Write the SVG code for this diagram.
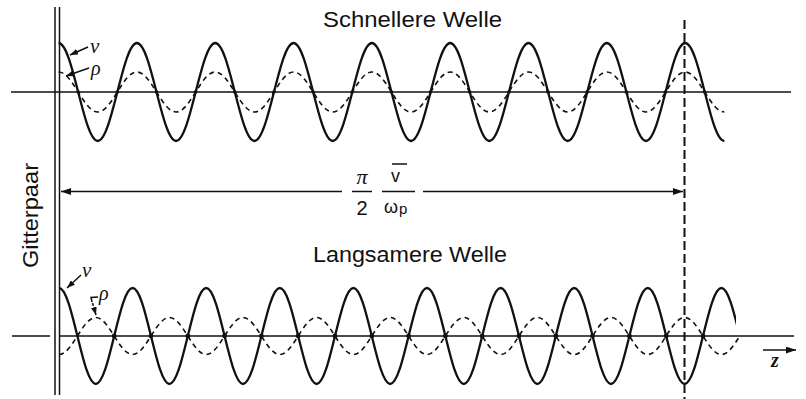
<svg xmlns="http://www.w3.org/2000/svg" width="806" height="399" viewBox="0 0 806 399">
<style>
.ax{stroke:#111;stroke-width:1.5;fill:none}
.sol{stroke:#111;stroke-width:2.3;fill:none;stroke-linejoin:round}
.dsh{stroke:#111;stroke-width:1.6;fill:none;stroke-dasharray:5 4}
.ttl{font-family:"Liberation Sans",Arial,sans-serif;font-size:22px;fill:#111}
.lbl{font-family:"Liberation Serif","Times New Roman",serif;font-style:italic;fill:#111}
.dot{fill:#111}
</style>
<defs>
<marker id="ah" viewBox="0 0 10 7" refX="10" refY="3.5" markerWidth="10" markerHeight="7" markerUnits="userSpaceOnUse" orient="auto-start-reverse">
<path d="M0,0 L10,3.5 L0,7 z" fill="#111"/>
</marker>
<marker id="sah" viewBox="0 0 8 6" refX="8" refY="3" markerWidth="8" markerHeight="6" markerUnits="userSpaceOnUse" orient="auto">
<path d="M0,0 L8,3 L0,6 z" fill="#111"/>
</marker>
<clipPath id="clipB"><rect x="0" y="250" width="736" height="149"/></clipPath>
</defs>

<g id="grid-pair">
<line class="ax" x1="55" y1="7" x2="55" y2="395" stroke-width="1.8"/>
<line class="ax" x1="59.5" y1="7" x2="59.5" y2="395" stroke-width="1.8"/>
<text class="ttl" transform="translate(38,268) rotate(-90)" textLength="105" lengthAdjust="spacingAndGlyphs">Gitterpaar</text>
</g>

<g id="fast-wave">
<text class="ttl" x="323" y="27" textLength="179" lengthAdjust="spacingAndGlyphs">Schnellere Welle</text>
<line class="ax" x1="11" y1="92" x2="791" y2="92"/>
<path class="sol" d="M58.6,43 c7.08,0 13.19,23.9 19.58,49
s12.49,49 19.58,49 s13.19,-23.9 19.58,-49 s12.49,-49 19.58,-49 s13.19,23.9 19.58,49
s12.49,49 19.58,49 s13.19,-23.9 19.58,-49 s12.49,-49 19.58,-49 s13.19,23.9 19.58,49
s12.49,49 19.58,49 s13.19,-23.9 19.58,-49 s12.49,-49 19.58,-49 s13.19,23.9 19.58,49
s12.49,49 19.58,49 s13.19,-23.9 19.58,-49 s12.49,-49 19.58,-49 s13.19,23.9 19.58,49
s12.49,49 19.58,49 s13.19,-23.9 19.58,-49 s12.49,-49 19.58,-49 s13.19,23.9 19.58,49
s12.49,49 19.58,49 s13.19,-23.9 19.58,-49 s12.49,-49 19.58,-49 s13.19,23.9 19.58,49
s12.49,49 19.58,49 s13.19,-23.9 19.58,-49 s12.49,-49 19.58,-49 s13.19,23.9 19.58,49
s12.49,49 19.58,49 s13.19,-23.9 19.58,-49 s12.49,-49 19.58,-49 s13.19,23.9 19.58,49
s12.49,49 19.58,49"/>
<path class="dsh" d="M58.6,72 c7.08,0 13.19,9.75 19.58,20
s12.49,20 19.58,20 s13.19,-9.75 19.58,-20 s12.49,-20 19.58,-20 s13.19,9.75 19.58,20
s12.49,20 19.58,20 s13.19,-9.75 19.58,-20 s12.49,-20 19.58,-20 s13.19,9.75 19.58,20
s12.49,20 19.58,20 s13.19,-9.75 19.58,-20 s12.49,-20 19.58,-20 s13.19,9.75 19.58,20
s12.49,20 19.58,20 s13.19,-9.75 19.58,-20 s12.49,-20 19.58,-20 s13.19,9.75 19.58,20
s12.49,20 19.58,20 s13.19,-9.75 19.58,-20 s12.49,-20 19.58,-20 s13.19,9.75 19.58,20
s12.49,20 19.58,20 s13.19,-9.75 19.58,-20 s12.49,-20 19.58,-20 s13.19,9.75 19.58,20
s12.49,20 19.58,20 s13.19,-9.75 19.58,-20 s12.49,-20 19.58,-20 s13.19,9.75 19.58,20
s12.49,20 19.58,20 s13.19,-9.75 19.58,-20 s12.49,-20 19.58,-20 s13.19,9.75 19.58,20
s12.49,20 19.58,20"/>
<g class="dot">
<circle cx="78.2" cy="92" r="1.8"/><circle cx="117.3" cy="92" r="1.8"/><circle cx="156.5" cy="92" r="1.8"/><circle cx="195.6" cy="92" r="1.8"/><circle cx="234.8" cy="92" r="1.8"/><circle cx="273.9" cy="92" r="1.8"/><circle cx="313.1" cy="92" r="1.8"/><circle cx="352.2" cy="92" r="1.8"/><circle cx="391.4" cy="92" r="1.8"/><circle cx="430.5" cy="92" r="1.8"/><circle cx="469.7" cy="92" r="1.8"/><circle cx="508.8" cy="92" r="1.8"/><circle cx="548" cy="92" r="1.8"/><circle cx="587.1" cy="92" r="1.8"/><circle cx="626.3" cy="92" r="1.8"/><circle cx="665.4" cy="92" r="1.8"/><circle cx="704.6" cy="92" r="1.8"/>
</g>
<text class="lbl" x="90" y="53" font-size="21">v</text>
<line class="ax" x1="88" y1="47" x2="70" y2="55" marker-end="url(#sah)"/>
<text class="lbl" x="91" y="75" font-size="20">ρ</text>
<line class="ax" x1="89" y1="68" x2="66" y2="76" marker-end="url(#sah)"/>
</g>

<g id="slow-wave">
<text class="ttl" x="313" y="262" textLength="194" lengthAdjust="spacingAndGlyphs">Langsamere Welle</text>
<line class="ax" x1="12" y1="336" x2="50" y2="336"/>
<line class="ax" x1="59" y1="336" x2="794" y2="336"/>
<path class="sol" clip-path="url(#clipB)" d="M59,288 c6.66,0 12.4,23.41 18.4,48
s11.74,48 18.4,48 s12.4,-23.41 18.4,-48 s11.74,-48 18.4,-48 s12.4,23.41 18.4,48
s11.74,48 18.4,48 s12.4,-23.41 18.4,-48 s11.74,-48 18.4,-48 s12.4,23.41 18.4,48
s11.74,48 18.4,48 s12.4,-23.41 18.4,-48 s11.74,-48 18.4,-48 s12.4,23.41 18.4,48
s11.74,48 18.4,48 s12.4,-23.41 18.4,-48 s11.74,-48 18.4,-48 s12.4,23.41 18.4,48
s11.74,48 18.4,48 s12.4,-23.41 18.4,-48 s11.74,-48 18.4,-48 s12.4,23.41 18.4,48
s11.74,48 18.4,48 s12.4,-23.41 18.4,-48 s11.74,-48 18.4,-48 s12.4,23.41 18.4,48
s11.74,48 18.4,48 s12.4,-23.41 18.4,-48 s11.74,-48 18.4,-48 s12.4,23.41 18.4,48
s11.74,48 18.4,48 s12.4,-23.41 18.4,-48 s11.74,-48 18.4,-48 s12.4,23.41 18.4,48
s11.74,48 18.4,48 s12.4,-23.41 18.4,-48 s11.74,-48 18.4,-48 s12.4,23.41 18.4,48"/>
<path class="dsh" d="M59,354.5 c6.66,0 12.4,-9.02 18.4,-18.5
s11.74,-18.5 18.4,-18.5 s12.4,9.02 18.4,18.5 s11.74,18.5 18.4,18.5 s12.4,-9.02 18.4,-18.5
s11.74,-18.5 18.4,-18.5 s12.4,9.02 18.4,18.5 s11.74,18.5 18.4,18.5 s12.4,-9.02 18.4,-18.5
s11.74,-18.5 18.4,-18.5 s12.4,9.02 18.4,18.5 s11.74,18.5 18.4,18.5 s12.4,-9.02 18.4,-18.5
s11.74,-18.5 18.4,-18.5 s12.4,9.02 18.4,18.5 s11.74,18.5 18.4,18.5 s12.4,-9.02 18.4,-18.5
s11.74,-18.5 18.4,-18.5 s12.4,9.02 18.4,18.5 s11.74,18.5 18.4,18.5 s12.4,-9.02 18.4,-18.5
s11.74,-18.5 18.4,-18.5 s12.4,9.02 18.4,18.5 s11.74,18.5 18.4,18.5 s12.4,-9.02 18.4,-18.5
s11.74,-18.5 18.4,-18.5 s12.4,9.02 18.4,18.5 s11.74,18.5 18.4,18.5 s12.4,-9.02 18.4,-18.5
s11.74,-18.5 18.4,-18.5 s12.4,9.02 18.4,18.5 s11.74,18.5 18.4,18.5 s12.4,-9.02 18.4,-18.5
s11.74,-18.5 18.4,-18.5 s12.4,9.02 18.4,18.5 s11.74,18.5 18.4,18.5 s12.4,-9.02 18.4,-18.5"/>
<g class="dot">
<circle cx="114.2" cy="336" r="2.4"/><circle cx="151" cy="336" r="2.4"/><circle cx="187.8" cy="336" r="2.4"/><circle cx="224.6" cy="336" r="2.4"/><circle cx="261.4" cy="336" r="2.4"/><circle cx="298.2" cy="336" r="2.4"/><circle cx="335" cy="336" r="2.4"/><circle cx="371.8" cy="336" r="2.4"/><circle cx="408.6" cy="336" r="2.4"/><circle cx="445.4" cy="336" r="2.4"/><circle cx="482.2" cy="336" r="2.4"/><circle cx="519" cy="336" r="2.4"/><circle cx="555.8" cy="336" r="2.4"/><circle cx="592.6" cy="336" r="2.4"/><circle cx="629.4" cy="336" r="2.4"/><circle cx="666.2" cy="336" r="2.4"/><circle cx="703" cy="336" r="2.4"/>
</g>
<text class="lbl" x="82" y="277" font-size="21">v</text>
<line class="ax" x1="81" y1="275" x2="67" y2="288" marker-end="url(#sah)"/>
<text class="lbl" x="99" y="300" font-size="20">ρ</text>
<path class="ax" d="M98,297 L91,297.5 L92,302"/>
<line class="ax" x1="92.5" y1="303" x2="96" y2="315" stroke-dasharray="3 2" marker-end="url(#sah)"/>
</g>

<g id="connectors">
<line x1="684.5" y1="20" x2="684.5" y2="399" stroke="#111" stroke-width="2" stroke-dasharray="9 4"/>
<line class="ax" x1="61" y1="191.5" x2="342" y2="191.5" marker-start="url(#ah)"/>
<line class="ax" x1="423" y1="191.5" x2="683" y2="191.5" marker-end="url(#ah)"/>
<line class="ax" x1="763" y1="350" x2="796" y2="350" stroke-width="2" marker-end="url(#ah)"/>
</g>

<g id="distance-label">
<text class="lbl" x="362" y="184" font-size="22" text-anchor="middle">π</text>
<line class="ax" x1="352" y1="191.5" x2="372" y2="191.5"/>
<text x="362" y="215" font-family="Liberation Sans,Arial,sans-serif" font-size="20" text-anchor="middle" fill="#111">2</text>
<line class="ax" x1="392" y1="164" x2="407" y2="164"/>
<text x="391" y="182" font-family="Liberation Sans,Arial,sans-serif" font-size="18" fill="#111">v</text>
<line class="ax" x1="382" y1="191.5" x2="415" y2="191.5"/>
<text x="384" y="213" font-family="Liberation Sans,Arial,sans-serif" font-size="18" fill="#111">ω</text>
<text x="399" y="214" font-family="Liberation Sans,Arial,sans-serif" font-size="15" fill="#111">p</text>
</g>

<text class="lbl" x="771" y="367" font-size="20" font-weight="bold">z</text>
</svg>
